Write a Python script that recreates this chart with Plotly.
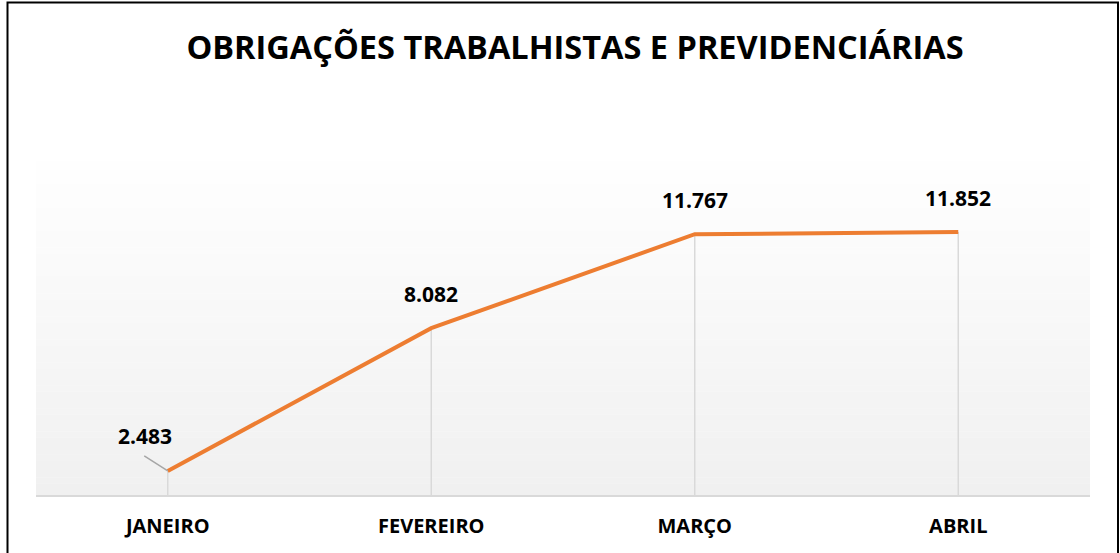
import plotly.graph_objects as go

categories = ["JANEIRO", "FEVEREIRO", "MARÇO", "ABRIL"]
values = [2.483, 8.082, 11.767, 11.852]
value_labels = ["2.483", "8.082", "11.767", "11.852"]
title_text = "OBRIGAÇÕES TRABALHISTAS E PREVIDENCIÁRIAS"

Y_MIN, Y_MAX = 1.54, 15.07
FONT = "Open Sans"

W, H = 1120, 553
ML, MR, MT, MB = 36, 30, 150, 58

fig = go.Figure()

# drop lines via error bars
fig.add_trace(go.Scatter(
    x=categories, y=values, mode="markers",
    marker=dict(size=1, color="rgba(0,0,0,0)"),
    error_y=dict(type="data", symmetric=False,
                 array=[0] * len(values),
                 arrayminus=[v - Y_MIN for v in values],
                 color="#D9D9D9", thickness=1.5, width=0),
    hoverinfo="skip", showlegend=False,
))

fig.add_trace(go.Scatter(
    x=categories, y=values, mode="lines",
    line=dict(color="#ED7D31", width=4),
    showlegend=False,
))

LBL_FONT = dict(family=FONT, size=21, color="#000000", weight="bold")
annotations = []
for i, (c, v, t) in enumerate(zip(categories, values, value_labels)):
    if i == 0:
        # leader line
        annotations.append(dict(
            x=c, y=v, text="", showarrow=True, ax=-25, ay=-16,
            arrowhead=0, arrowwidth=1.5, arrowcolor="#A6A6A6", standoff=0,
        ))
        annotations.append(dict(
            x=c, y=v, text=t, showarrow=False, xshift=-23, yshift=35,
            font=LBL_FONT,
        ))
    else:
        annotations.append(dict(
            x=c, y=v, text=t, showarrow=False, yshift=34,
            font=LBL_FONT,
        ))

# background gradient bands inside plot area
shapes = []
N = 60
c_top = (255, 255, 255)
c_bot = (240, 240, 240)
for k in range(N):
    f = (k + 0.5) / N
    col = tuple(round(c_top[j] + (c_bot[j] - c_top[j]) * f) for j in range(3))
    shapes.append(dict(
        type="rect", xref="paper", yref="paper", layer="below",
        x0=0, x1=1, y0=1 - (k + 1) / N, y1=1 - k / N + 0.001,
        fillcolor="rgb(%d,%d,%d)" % col, line=dict(width=0),
    ))

pw = W - ML - MR
ph = H - MT - MB
def px2x(p):
    return (p - ML) / pw
def py2y(p):
    return (H - MB - p) / ph

# outer border
shapes.append(dict(
    type="rect", xref="paper", yref="paper", layer="above",
    x0=px2x(7.5), x1=px2x(1118), y0=py2y(556), y1=py2y(2.5),
    line=dict(color="#000000", width=2), fillcolor="rgba(0,0,0,0)",
))

fig.update_layout(
    width=W, height=H,
    margin=dict(l=ML, r=MR, t=MT, b=MB),
    paper_bgcolor="#FFFFFF",
    plot_bgcolor="rgba(0,0,0,0)",
    title=dict(text=title_text, x=575 / W, xanchor="center", y=1 - 48 / H, yanchor="middle",
               font=dict(family=FONT, size=32.5, color="#000000", weight="bold")),
    xaxis=dict(
        type="category", range=[-0.5, 3.5], showgrid=False, zeroline=False,
        showline=True, linecolor="#D9D9D9", linewidth=2, ticks="",
        tickfont=dict(family=FONT, size=20, color="#000000", weight="bold"),
        ticklabelstandoff=12,
    ),
    yaxis=dict(range=[Y_MIN, Y_MAX], visible=False, showgrid=False, zeroline=False),
    annotations=annotations,
    shapes=shapes,
)

fig.write_html("out.html")
